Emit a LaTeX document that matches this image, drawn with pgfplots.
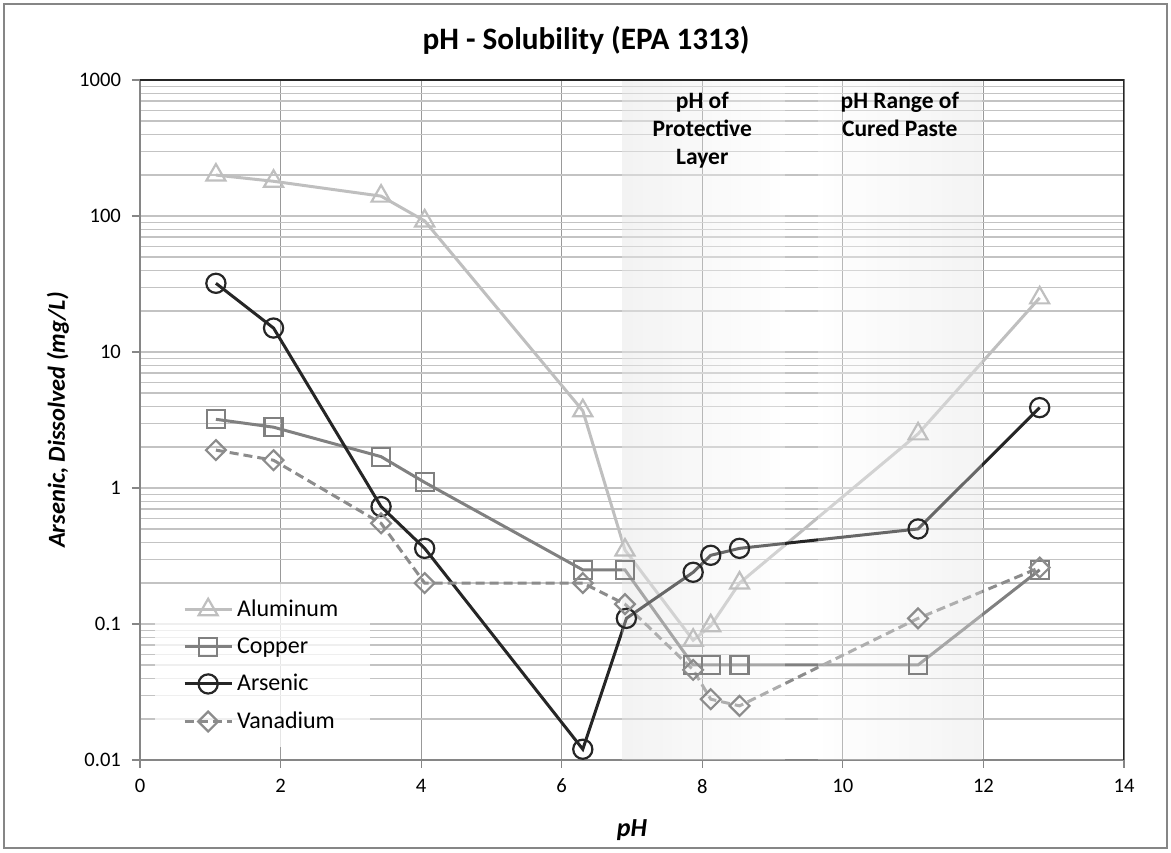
\documentclass[border=0pt]{standalone}
\usepackage{fontspec}
\setmainfont{Carlito}
\usepackage{pgfplots}
\pgfplotsset{compat=1.18}

\definecolor{alu}{HTML}{BFBFBF}
\definecolor{cop}{HTML}{808080}
\definecolor{ars}{HTML}{262626}
\definecolor{van}{HTML}{8C8C8C}
\definecolor{vgrid}{HTML}{999999}
\definecolor{hgrid}{HTML}{C3C3C3}
\definecolor{axgray}{HTML}{868686}

\begin{document}
\begin{tikzpicture}[x=1pt,y=1pt]
\begin{axis}[
  set layers,
  at={(0,0)}, anchor=south west,
  width=492pt, height=340pt, scale only axis,
  xmin=0, xmax=14, ymode=log, ymin=0.01, ymax=1000,
  xtick={0,2,...,14},
  ytick={0.01,0.1,1,10,100,1000},
  yticklabels={0.01,0.1,1,10,100,1000},
  xmajorgrids, ymajorgrids, yminorgrids,
  major x grid style={vgrid, line width=0.6pt},
  major y grid style={hgrid, line width=0.6pt},
  minor y grid style={hgrid, line width=0.6pt},
  tick pos=left,
  tick align=outside, major tick length=4pt, minor tick length=0pt,
  tick style={axgray, line width=0.6pt},
  axis line style={axgray, line width=0.7pt},
  ticklabel style={font=\fontsize{10.3}{12}\selectfont, black},
  /pgf/number format/assume math mode=true,
  yticklabel style={xshift=-2pt},
  xticklabel style={yshift=-2pt},
  legend style={at={(0.015,0.018)}, anchor=south west, draw=none,
    fill=white, fill opacity=0.75, text opacity=1,
    font=\fontsize{12}{14}\selectfont, inner xsep=14pt, inner ysep=6pt,
    row sep=5pt},
  legend cell align=left,
  legend image code/.code={\draw[mark repeat=2,mark phase=2,#1]
    plot coordinates {(0pt,0pt) (11.75pt,0pt) (23.5pt,0pt)};},
]
\begin{pgfonlayer}{axis background}
\shade[left color=gray!13, middle color=gray!20, right color=white]
  (axis cs:6.86,0.01) rectangle (axis cs:9.17,1000);
\shade[left color=white, middle color=gray!20, right color=gray!12]
  (axis cs:9.64,0.01) rectangle (axis cs:11.98,1000);
\end{pgfonlayer}

\addplot[alu, line width=1.5pt, mark=triangle, mark size=5.5pt,
  mark options={solid, line width=1.1pt}] coordinates {
 (1.08,200) (1.9,180) (3.43,140) (4.05,92) (6.3,3.7) (6.9,0.35)
 (7.87,0.076) (8.12,0.097) (8.53,0.2) (11.07,2.5) (12.8,25)};
\addlegendentry{Aluminum}
\addplot[cop, line width=1.5pt, mark=square, mark size=4.5pt,
  mark options={solid, line width=1.1pt}] coordinates {
 (1.08,3.2) (1.9,2.8) (3.43,1.7) (4.05,1.1) (6.3,0.25) (6.9,0.25)
 (7.87,0.05) (8.12,0.05) (8.53,0.05) (11.07,0.05) (12.8,0.25)};
\addlegendentry{Copper}
\addplot[ars, line width=1.5pt, mark=o, mark size=4.8pt,
  mark options={solid, line width=1.1pt}] coordinates {
 (1.08,32) (1.9,15) (3.43,0.73) (4.05,0.36) (6.3,0.012) (6.92,0.11)
 (7.87,0.24) (8.12,0.32) (8.53,0.36) (11.07,0.5) (12.8,3.9)};
\addlegendentry{Arsenic}
\addplot[van, line width=1.5pt, dash pattern=on 4.5pt off 2.5pt,
  mark=square, mark size=3.5pt,
  mark options={solid, rotate=45, line width=1.1pt}] coordinates {
 (1.08,1.9) (1.9,1.6) (3.43,0.55) (4.05,0.2) (6.3,0.2) (6.9,0.14)
 (7.87,0.046) (8.12,0.028) (8.53,0.025) (11.07,0.11) (12.8,0.26)};
\addlegendentry{Vanadium}

\fill[white, fill opacity=0.3] (axis cs:6.86,0.01) rectangle (axis cs:9.17,1000);
\fill[white, fill opacity=0.3] (axis cs:9.64,0.01) rectangle (axis cs:11.98,1000);
\draw[ars, line width=0.8pt] (rel axis cs:0,1) -- (rel axis cs:1,1) -- (rel axis cs:1,0);

\node[anchor=north, align=center, inner sep=0pt,
  font=\bfseries\fontsize{11.75}{14}\selectfont] at (axis cs:8.0,816)
  {pH of\\Protective\\Layer};
\node[anchor=north, align=center, inner sep=0pt,
  font=\bfseries\fontsize{11.75}{14}\selectfont] at (axis cs:10.81,816)
  {pH Range of\\Cured Paste};
\end{axis}

\node[font=\bfseries\fontsize{15.6}{18}\selectfont] at (223,360) {pH - Solubility (EPA 1313)};
\node[font=\bfseries\itshape\fontsize{13}{15}\selectfont] at (246,-35) {pH};
\node[rotate=90, font=\bfseries\itshape\fontsize{12.2}{14}\selectfont] at (-41,170)
  {Arsenic, Dissolved (mg/L)};

\draw[axgray, line width=0.8pt] (-68,-44) rectangle (513.5,378);
\pgfresetboundingbox
\useasboundingbox (-70,-46) rectangle (515.5,380);
\end{tikzpicture}
\end{document}
